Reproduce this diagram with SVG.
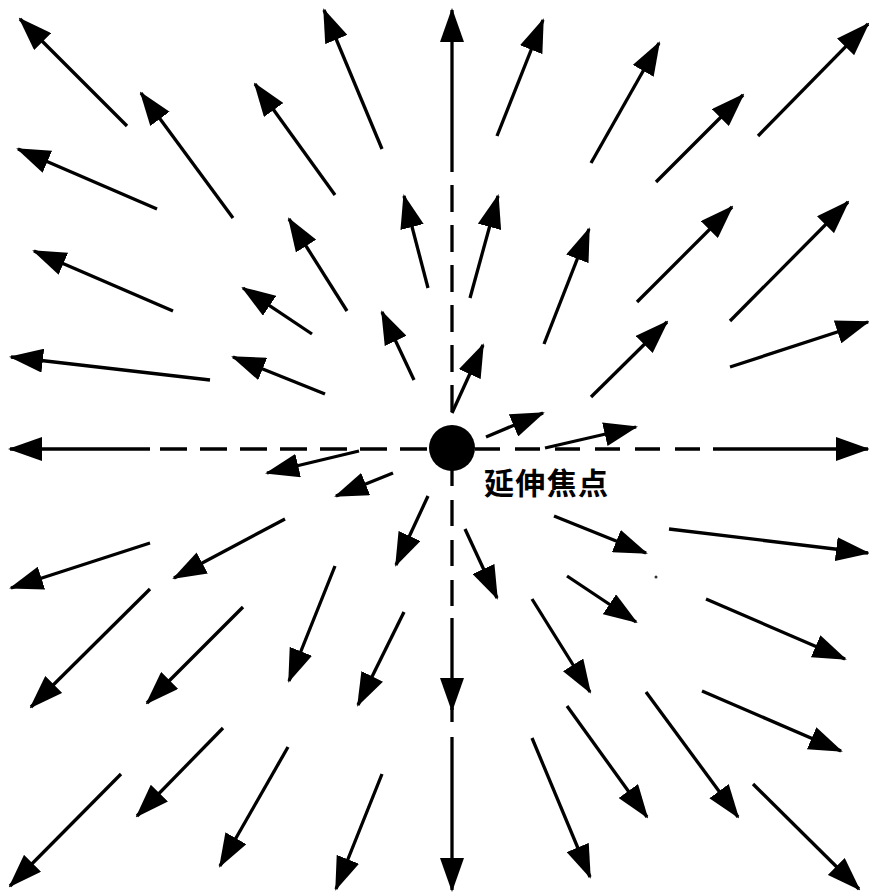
<svg xmlns="http://www.w3.org/2000/svg" width="869" height="892" viewBox="0 0 869 892">
<style>
.a{stroke:#000;stroke-width:3.3;fill:none;marker-end:url(#ah)}
.s{stroke:#000;stroke-width:3.3;fill:none}
.d{stroke:#000;stroke-width:3.3;fill:none}
.lbl{font-family:"Noto Sans CJK SC","Noto Sans CJK JP",sans-serif;font-size:30px;font-weight:700;fill:#000}
</style>
<defs>
<marker id="ah" markerUnits="userSpaceOnUse" markerWidth="34" markerHeight="24" viewBox="0 0 34 24" refX="32" refY="12" orient="auto">
<path d="M0,0 L34,12 L0,24 Z" fill="#000"/>
</marker>
</defs>
<rect width="869" height="892" fill="#fff"/>
<g id="axes">
<line class="a" x1="452" y1="172" x2="452" y2="10"/>
<line class="d" x1="452" y1="185" x2="452" y2="424" stroke-dasharray="27 13"/>
<line class="d" x1="452" y1="460" x2="452" y2="610" stroke-dasharray="26 14"/>
<line class="a" x1="452" y1="618" x2="452" y2="710"/>
<line class="s" x1="452" y1="708" x2="452" y2="722"/>
<line class="a" x1="452" y1="737" x2="452" y2="890"/>
<line class="a" x1="150" y1="449" x2="10" y2="449"/>
<line class="d" x1="427" y1="449" x2="155" y2="449" stroke-dasharray="27 13"/>
<line class="d" x1="475" y1="449" x2="705" y2="449" stroke-dasharray="25 15"/>
<line class="a" x1="713" y1="449" x2="868" y2="449"/>
</g>
<g id="arrows">
<line class="a" x1="127" y1="126" x2="20" y2="19"/>
<line class="a" x1="233" y1="218" x2="141" y2="93"/>
<line class="a" x1="335" y1="195" x2="255" y2="84"/>
<line class="a" x1="382" y1="149" x2="324" y2="10"/>
<line class="a" x1="157" y1="209" x2="18" y2="149"/>
<line class="a" x1="173" y1="311" x2="34" y2="251"/>
<line class="a" x1="347" y1="311" x2="289" y2="219"/>
<line class="a" x1="428" y1="288" x2="404" y2="196"/>
<line class="a" x1="312" y1="334" x2="243" y2="288"/>
<line class="a" x1="210" y1="380" x2="11" y2="357"/>
<line class="a" x1="325" y1="394" x2="233" y2="357"/>
<line class="a" x1="414" y1="380" x2="382" y2="312"/>
<line class="a" x1="497" y1="136" x2="543" y2="20"/>
<line class="a" x1="591" y1="163" x2="659" y2="43"/>
<line class="a" x1="656" y1="182" x2="743" y2="95"/>
<line class="a" x1="758" y1="136" x2="868" y2="24"/>
<line class="a" x1="470" y1="298" x2="498" y2="196"/>
<line class="a" x1="544" y1="344" x2="589" y2="229"/>
<line class="a" x1="637" y1="302" x2="732" y2="207"/>
<line class="a" x1="730" y1="321" x2="848" y2="202"/>
<line class="a" x1="591" y1="397" x2="667" y2="322"/>
<line class="a" x1="730" y1="367" x2="868" y2="322"/>
<line class="a" x1="452" y1="413" x2="483" y2="345"/>
<line class="a" x1="486" y1="437" x2="543" y2="413"/>
<line class="a" x1="545" y1="448" x2="636" y2="427"/>
<line class="a" x1="359" y1="451" x2="267" y2="473"/>
<line class="a" x1="393" y1="473" x2="336" y2="496"/>
<line class="a" x1="428" y1="496" x2="396" y2="565"/>
<line class="a" x1="285" y1="519" x2="174" y2="578"/>
<line class="a" x1="150" y1="543" x2="11" y2="588"/>
<line class="a" x1="150" y1="589" x2="31" y2="707"/>
<line class="a" x1="243" y1="607" x2="147" y2="703"/>
<line class="a" x1="335" y1="566" x2="289" y2="681"/>
<line class="a" x1="404" y1="612" x2="358" y2="705"/>
<line class="a" x1="223" y1="728" x2="137" y2="816"/>
<line class="a" x1="121" y1="774" x2="10" y2="886"/>
<line class="a" x1="288" y1="747" x2="220" y2="866"/>
<line class="a" x1="382" y1="774" x2="336" y2="889"/>
<line class="a" x1="465" y1="529" x2="497" y2="598"/>
<line class="a" x1="554" y1="516" x2="646" y2="553"/>
<line class="a" x1="669" y1="529" x2="868" y2="553"/>
<line class="a" x1="567" y1="576" x2="636" y2="622"/>
<line class="a" x1="706" y1="599" x2="845" y2="659"/>
<line class="a" x1="532" y1="599" x2="590" y2="692"/>
<line class="a" x1="567" y1="706" x2="647" y2="817"/>
<line class="a" x1="646" y1="692" x2="738" y2="817"/>
<line class="a" x1="702" y1="691" x2="841" y2="751"/>
<line class="a" x1="532" y1="738" x2="590" y2="877"/>
<line class="a" x1="753" y1="784" x2="859" y2="889"/>
</g>
<g id="focus">
<circle cx="452" cy="448" r="23" fill="#000"/>
<text class="lbl" x="484" y="494" textLength="124" lengthAdjust="spacing">延伸焦点</text>
</g>
<circle cx="656" cy="577" r="1.5" fill="#333"/>
</svg>
